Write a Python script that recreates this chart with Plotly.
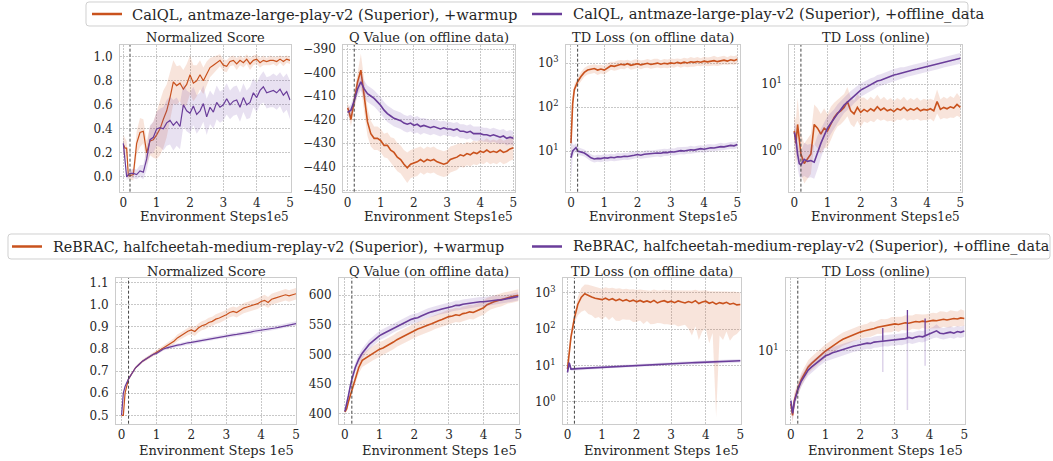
import plotly.graph_objects as go

# ---------------- data (x in units of 1e5 environment steps) ----------------
X = [0, 0.05, 0.1, 0.15, 0.2, 0.3, 0.4, 0.5, 0.6, 0.7, 0.8, 0.9, 1.0,
     1.1, 1.2, 1.3, 1.4, 1.5, 1.6, 1.7, 1.8, 1.9, 2.0,
     2.1, 2.2, 2.3, 2.4, 2.5, 2.6, 2.7, 2.8, 2.9, 3.0,
     3.1, 3.2, 3.3, 3.4, 3.5, 3.6, 3.7, 3.8, 3.9, 4.0,
     4.1, 4.2, 4.3, 4.4, 4.5, 4.6, 4.7, 4.8, 4.9, 5.0]

LEGEND_TOP = ["CalQL, antmaze-large-play-v2 (Superior), +warmup",
              "CalQL, antmaze-large-play-v2 (Superior), +offline_data"]
LEGEND_BOTTOM = ["ReBRAC, halfcheetah-medium-replay-v2 (Superior), +warmup",
                 "ReBRAC, halfcheetah-medium-replay-v2 (Superior), +offline_data"]
PANEL_TITLES = ["Normalized Score", "Q Value (on offline data)",
                "TD Loss (on offline data)", "TD Loss (online)"]
X_LABEL = "Environment Steps"
X_OFFSET = "1e5"
X_TICKS = [0, 1, 2, 3, 4, 5]
WARMUP_END = 0.2

# --- CalQL: normalized score
CQ_SCORE_W = [0.27, 0.24, 0.24, 0.01, 0.01, 0.02, 0.28, 0.37, 0.38, 0.20, 0.30, 0.31, 0.35,
              0.40, 0.48, 0.55, 0.66, 0.79, 0.76, 0.78, 0.73, 0.77, 0.85,
              0.78, 0.80, 0.85, 0.80, 0.86, 0.91, 0.93, 0.95, 0.97, 0.93,
              0.92, 0.96, 0.97, 0.94, 0.97, 0.95, 0.98, 0.94, 0.97, 0.98,
              0.95, 0.97, 0.96, 0.97, 0.97, 0.96, 0.98, 0.96, 0.98, 0.97]
CQ_SCORE_W_SD = [0.08, 0.08, 0.06, 0.03, 0.03, 0.05, 0.10, 0.12, 0.10, 0.10, 0.12, 0.15, 0.20,
                 0.22, 0.24, 0.22, 0.20, 0.18, 0.16, 0.15, 0.16, 0.17, 0.16,
                 0.15, 0.13, 0.12, 0.11, 0.10, 0.08, 0.07, 0.06, 0.05, 0.05,
                 0.05, 0.04, 0.04, 0.05, 0.04, 0.04, 0.04, 0.05, 0.04, 0.04,
                 0.04, 0.04, 0.03, 0.04, 0.03, 0.04, 0.03, 0.04, 0.03, 0.03]
CQ_SCORE_O = [0.28, 0.15, 0.00, 0.02, 0.03, 0.03, 0.02, 0.05, 0.04, 0.15, 0.31, 0.33, 0.40,
              0.41, 0.40, 0.45, 0.47, 0.43, 0.46, 0.42, 0.60, 0.55, 0.53,
              0.59, 0.52, 0.55, 0.61, 0.50, 0.58, 0.54, 0.62, 0.58, 0.60,
              0.65, 0.60, 0.63, 0.64, 0.58, 0.66, 0.60, 0.62, 0.70, 0.66,
              0.72, 0.75, 0.70, 0.71, 0.72, 0.70, 0.73, 0.68, 0.71, 0.64]
CQ_SCORE_O_SD = [0.06, 0.05, 0.03, 0.03, 0.03, 0.04, 0.04, 0.05, 0.06, 0.09, 0.12, 0.13, 0.14,
                 0.16, 0.18, 0.19, 0.20, 0.21, 0.20, 0.19, 0.18, 0.17, 0.17,
                 0.16, 0.16, 0.15, 0.15, 0.15, 0.14, 0.14, 0.14, 0.13, 0.13,
                 0.13, 0.12, 0.12, 0.12, 0.12, 0.12, 0.12, 0.13, 0.12, 0.12,
                 0.12, 0.13, 0.13, 0.13, 0.14, 0.14, 0.14, 0.15, 0.15, 0.16]

# --- CalQL: Q value on offline data
CQ_Q_W = [-415, -417, -420, -416, -412, -404, -399, -410, -421, -426, -428, -428, -429,
          -431, -431, -433, -434, -436, -437, -439, -440.5, -439, -438.5,
          -438, -437, -438, -437, -437.5, -437, -438, -438.5, -439, -438.5,
          -437, -436.5, -436, -435, -435.5, -434.5, -435, -434, -434.5, -433.5,
          -434, -433, -434, -433.5, -434, -433, -434, -433.5, -432.5, -432]
CQ_Q_W_SD = [2, 2.5, 3, 3.5, 4, 5, 7, 7, 6, 5.5, 5, 5, 5,
             5, 5.5, 5.5, 6, 6, 6, 6, 6.5, 6, 6,
             6, 5.5, 5.5, 5.5, 5.5, 5.5, 5.5, 5.5, 5.5, 5.5,
             5.5, 5.5, 5.5, 5, 5, 5, 5, 5, 5, 5,
             5, 5, 5, 5, 5, 5, 5, 5, 5, 5]
CQ_Q_O = [-417, -416.5, -416, -414, -412, -407, -404, -407, -409, -410, -411, -412.5, -414,
          -416, -417.5, -418.5, -419.5, -420, -420.5, -421.5, -422, -421.5, -422.5,
          -422, -423, -422.5, -423, -423.5, -423, -423.5, -424, -423.5, -424,
          -424, -424.5, -424, -425, -425, -425.5, -425, -426, -426, -426,
          -426.5, -426.5, -427, -426.5, -427, -427.5, -427, -428, -427.5, -428]
CQ_Q_O_SD = [2, 2, 2.5, 2.5, 3, 3, 3.5, 3.5, 3.5, 3.5, 3.5, 3.5, 3.5,
             3.5, 3.5, 3.5, 3.5, 3.5, 3.5, 3.5, 3.5, 3.5, 3.5,
             3.5, 3.5, 3.2, 3.2, 3.2, 3.2, 3.2, 3.2, 3, 3,
             3, 3, 3, 3, 3, 3, 3, 3, 3, 3,
             3, 3, 3, 3, 3, 3, 3, 3, 3, 3]

# --- CalQL: TD loss on offline data (band half-width in decades)
CQ_TDOFF_W = [15, 120, 250, 320, 380, 500, 620, 700, 720, 760, 700, 740, 700,
              800, 880, 850, 900, 950, 920, 980, 900, 950, 980,
              920, 960, 1000, 940, 980, 1010, 950, 1000, 970, 1020,
              990, 1050, 1000, 1060, 1020, 1080, 1050, 1100, 1060, 1120,
              1080, 1100, 1150, 1090, 1140, 1180, 1120, 1200, 1150, 1230]
CQ_TDOFF_W_SD = [0.35, 0.2, 0.12, 0.1, 0.1, 0.1, 0.1, 0.1, 0.1, 0.1, 0.11, 0.1, 0.1,
                 0.1, 0.09, 0.1, 0.11, 0.1, 0.1, 0.09, 0.1, 0.11, 0.1,
                 0.1, 0.09, 0.1, 0.1, 0.11, 0.1, 0.09, 0.1, 0.1, 0.1,
                 0.1, 0.09, 0.1, 0.1, 0.1, 0.11, 0.1, 0.1, 0.09, 0.1,
                 0.1, 0.1, 0.11, 0.1, 0.1, 0.1, 0.09, 0.1, 0.1, 0.1]
CQ_TDOFF_O = [7, 10, 11, 12, 10, 9.5, 9, 8, 7, 6.6, 6.8, 6.7, 7.0,
              6.9, 7.2, 7.0, 7.4, 7.3, 7.6, 7.5, 7.9, 8.0, 8.3,
              8.0, 8.4, 8.6, 8.5, 8.8, 9.0, 8.9, 9.3, 9.2, 9.6,
              9.5, 9.9, 10.2, 10.0, 10.4, 10.7, 10.5, 11.0, 11.3, 11.0,
              11.6, 11.9, 11.7, 12.2, 12.6, 12.4, 13.0, 13.4, 13.1, 14.0]
CQ_TDOFF_O_SD = [0.55, 0.15, 0.1, 0.1, 0.09, 0.08, 0.08, 0.08, 0.08, 0.08, 0.08, 0.08, 0.08,
                 0.08, 0.08, 0.08, 0.09, 0.08, 0.08, 0.08, 0.09, 0.08, 0.08,
                 0.08, 0.08, 0.09, 0.08, 0.08, 0.08, 0.09, 0.08, 0.08, 0.08,
                 0.08, 0.09, 0.08, 0.08, 0.08, 0.09, 0.08, 0.08, 0.08, 0.08,
                 0.09, 0.08, 0.08, 0.08, 0.09, 0.08, 0.08, 0.08, 0.08, 0.08]

# --- CalQL: TD loss online
CQ_TDON_W = [2.0, 1.3, 2.5, 1.5, 0.9, 0.65, 0.75, 0.9, 2.5, 2.2, 1.8, 2.2, 2.0,
             2.6, 3.2, 3.7, 4.0, 4.5, 5.5, 4.0, 3.6, 4.5, 3.8,
             4.2, 3.9, 4.3, 4.0, 4.6, 4.1, 4.4, 4.0, 4.2, 3.9,
             4.3, 4.1, 4.5, 4.0, 4.3, 4.1, 4.4, 4.0, 4.2, 4.1,
             4.3, 4.0, 5.5, 4.2, 4.5, 4.3, 4.6, 4.4, 5.0, 4.5]
CQ_TDON_W_SD = [0.25, 0.35, 0.4, 0.35, 0.3, 0.3, 0.3, 0.3, 0.3, 0.3, 0.3, 0.3, 0.25,
                0.25, 0.22, 0.2, 0.2, 0.2, 0.22, 0.2, 0.2, 0.2, 0.22,
                0.18, 0.17, 0.18, 0.17, 0.18, 0.16, 0.17, 0.16, 0.17, 0.16,
                0.16, 0.15, 0.16, 0.15, 0.16, 0.15, 0.16, 0.15, 0.16, 0.15,
                0.15, 0.16, 0.18, 0.15, 0.16, 0.15, 0.16, 0.15, 0.17, 0.15]
CQ_TDON_O = [1.9, 1.5, 0.9, 0.65, 0.62, 0.75, 0.7, 0.72, 0.68, 0.95, 1.3, 1.7, 2.2,
             2.6, 3.0, 3.6, 4.2, 4.9, 5.4, 6.0, 6.7, 7.4, 8.2,
             8.7, 9.3, 9.8, 10.4, 11.2, 11.5, 12.1, 12.6, 13.1, 13.8,
             14.1, 14.6, 15.0, 15.6, 16.0, 16.5, 16.9, 17.4, 17.8, 18.4,
             18.9, 19.5, 20.0, 20.6, 21.5, 22.0, 22.8, 23.4, 24.0, 24.5]
CQ_TDON_O_SD = [0.15, 0.2, 0.2, 0.2, 0.2, 0.25, 0.25, 0.25, 0.25, 0.25, 0.22, 0.2, 0.18,
                0.16, 0.15, 0.14, 0.13, 0.12, 0.12, 0.12, 0.11, 0.11, 0.1,
                0.1, 0.1, 0.1, 0.09, 0.09, 0.09, 0.09, 0.09, 0.09, 0.09,
                0.09, 0.09, 0.08, 0.08, 0.08, 0.08, 0.08, 0.08, 0.08, 0.08,
                0.08, 0.08, 0.08, 0.08, 0.08, 0.08, 0.08, 0.08, 0.08, 0.08]

# --- ReBRAC: normalized score
RB_SCORE_W = [0.50, 0.50, 0.60, 0.64, 0.665, 0.69, 0.715, 0.73, 0.745, 0.755, 0.765, 0.775, 0.785,
              0.795, 0.805, 0.815, 0.826, 0.835, 0.85, 0.86, 0.87, 0.88, 0.886,
              0.879, 0.895, 0.905, 0.91, 0.92, 0.925, 0.935, 0.94, 0.947, 0.955,
              0.965, 0.97, 0.965, 0.975, 0.985, 0.99, 0.995, 1.0, 1.005, 1.015,
              1.02, 1.01, 1.025, 1.03, 1.035, 1.04, 1.045, 1.04, 1.045, 1.05]
RB_SCORE_W_SD = [0.004, 0.004, 0.01, 0.008, 0.006, 0.006, 0.006, 0.006, 0.007, 0.007, 0.008, 0.008, 0.009,
                 0.01, 0.011, 0.012, 0.013, 0.014, 0.015, 0.016, 0.017, 0.018, 0.019,
                 0.02, 0.02, 0.02, 0.021, 0.021, 0.021, 0.022, 0.022, 0.022, 0.022,
                 0.022, 0.022, 0.023, 0.023, 0.023, 0.023, 0.024, 0.024, 0.024, 0.024,
                 0.025, 0.025, 0.025, 0.025, 0.026, 0.026, 0.026, 0.026, 0.026, 0.026]
RB_SCORE_O = [0.50, 0.60, 0.63, 0.65, 0.665, 0.69, 0.715, 0.73, 0.745, 0.755, 0.765, 0.775, 0.78,
              0.79, 0.80, 0.805, 0.81, 0.812, 0.817, 0.82, 0.825, 0.828, 0.83,
              0.833, 0.836, 0.838, 0.842, 0.845, 0.848, 0.852, 0.855, 0.857, 0.86,
              0.862, 0.864, 0.866, 0.868, 0.87, 0.874, 0.876, 0.88, 0.882, 0.885,
              0.888, 0.89, 0.893, 0.895, 0.898, 0.902, 0.905, 0.908, 0.912, 0.915]
RB_SCORE_O_SD = [0.004, 0.005, 0.006, 0.006, 0.006, 0.006, 0.006, 0.006, 0.006, 0.007, 0.007, 0.007, 0.007,
                 0.007, 0.007, 0.008, 0.008, 0.008, 0.008, 0.008, 0.008, 0.008, 0.008,
                 0.008, 0.008, 0.008, 0.008, 0.009, 0.009, 0.009, 0.009, 0.009, 0.009,
                 0.009, 0.009, 0.009, 0.009, 0.009, 0.009, 0.01, 0.01, 0.01, 0.01,
                 0.01, 0.01, 0.01, 0.01, 0.01, 0.01, 0.01, 0.01, 0.01, 0.01]

# --- ReBRAC: Q value on offline data
RB_Q_W = [403, 408, 420, 430, 440, 460, 478, 490, 494, 498, 502, 506, 509,
          511, 514, 518, 521, 525, 528, 531, 535, 537, 540,
          543, 545, 548, 550, 552, 555, 557, 559, 562, 564,
          565, 567, 566, 569, 570, 572, 571, 574, 577, 579,
          584, 587, 589, 591, 592, 594, 596, 597, 598, 600]
RB_Q_W_SD = [3, 4, 5, 6, 7, 9, 10, 11, 12, 12, 12, 12, 12,
             12, 12, 12, 12, 12, 12, 12, 12, 12, 12,
             12, 12, 12, 12, 12, 12, 12, 12, 12, 12,
             12, 12, 12, 12, 12, 12, 12, 12, 12, 12,
             12, 11, 11, 11, 11, 11, 10, 10, 10, 10]
RB_Q_O = [404, 415, 430, 445, 458, 478, 492, 502, 510, 517, 522, 527, 532,
          535, 538, 541, 545, 548, 551, 553, 556, 559, 561,
          562, 565, 568, 570, 572, 573, 575, 577, 578, 579,
          581, 583, 583, 585, 586, 587, 587, 588, 589, 589,
          590, 591, 591, 592, 592, 593, 594, 595, 597, 598]
RB_Q_O_SD = [3, 4, 5, 6, 7, 8, 8, 8, 8, 8, 8, 8, 8,
             8, 8, 8, 8, 8, 8, 8, 8, 8, 8,
             8, 8, 8, 8, 8, 8, 8, 8, 8, 8,
             8, 8, 8, 8, 8, 8, 8, 8, 8, 8,
             8, 8, 8, 8, 7, 7, 7, 7, 7, 7]

# --- ReBRAC: TD loss on offline data (upper / lower half-widths in decades)
RB_TDOFF_W = [8, 25, 60, 110, 200, 480, 750, 930, 820, 760, 700, 680, 640,
              700, 630, 680, 600, 660, 590, 640, 570, 620, 560,
              610, 550, 590, 540, 610, 520, 570, 600, 540, 580,
              530, 590, 550, 520, 570, 530, 600, 500, 550, 580,
              510, 550, 480, 530, 500, 540, 480, 510, 460, 470]
RB_TDOFF_W_UP = [0.1, 0.15, 0.15, 0.15, 0.15, 0.2, 0.25, 0.25, 0.3, 0.3, 0.3, 0.3, 0.3,
                 0.3, 0.32, 0.3, 0.33, 0.3, 0.32, 0.3, 0.33, 0.3, 0.32,
                 0.3, 0.33, 0.3, 0.32, 0.3, 0.34, 0.3, 0.3, 0.33, 0.3,
                 0.33, 0.3, 0.32, 0.34, 0.3, 0.33, 0.3, 0.35, 0.32, 0.3,
                 0.33, 0.3, 0.35, 0.32, 0.33, 0.3, 0.34, 0.32, 0.35, 0.33]
RB_TDOFF_W_DN = [0.1, 0.15, 0.15, 0.15, 0.15, 0.3, 0.4, 0.45, 0.5, 0.5, 0.55, 0.5, 0.55,
                 0.5, 0.55, 0.5, 0.55, 0.6, 0.5, 0.55, 0.5, 0.6, 0.55,
                 0.55, 0.6, 0.55, 0.6, 0.65, 0.55, 0.6, 0.65, 0.6, 0.65,
                 0.6, 0.7, 0.65, 0.6, 0.75, 0.9, 0.7, 1.0, 0.8, 0.75,
                 1.1, 0.85, 3.1, 0.9, 1.0, 0.8, 1.0, 0.9, 0.8, 0.7]
RB_TDOFF_O = [6.5, 12, 8.0, 7.9, 8.1, 8.2, 8.3, 8.4, 8.5, 8.5, 8.6, 8.8, 9.0,
              9.1, 9.2, 9.3, 9.5, 9.6, 9.7, 9.9, 10.0, 10.1, 10.3,
              10.4, 10.5, 10.5, 10.7, 10.8, 10.9, 11.0, 11.1, 11.2, 11.3,
              11.3, 11.5, 11.6, 11.7, 11.8, 11.9, 12.0, 12.1, 12.2, 12.4,
              12.3, 12.6, 12.8, 12.7, 13.0, 13.2, 12.9, 13.4, 13.2, 13.5]
RB_TDOFF_O_SD = [0.1, 0.1, 0.05, 0.04, 0.04, 0.04, 0.04, 0.04, 0.04, 0.04, 0.04, 0.04, 0.04,
                 0.04, 0.04, 0.04, 0.04, 0.04, 0.04, 0.04, 0.04, 0.04, 0.04,
                 0.04, 0.04, 0.04, 0.04, 0.04, 0.04, 0.04, 0.04, 0.04, 0.04,
                 0.045, 0.045, 0.045, 0.045, 0.045, 0.045, 0.045, 0.045, 0.045, 0.045,
                 0.05, 0.05, 0.05, 0.05, 0.05, 0.05, 0.05, 0.05, 0.05, 0.05]

# --- ReBRAC: TD loss online
RB_TDON_W = [2.8, 2.1, 3.0, 3.6, 4.0, 5.0, 5.9, 6.8, 7.4, 8.0, 8.6, 9.2, 10.0,
             10.6, 11.3, 11.9, 12.6, 13.3, 13.8, 14.3, 14.9, 15.2, 15.8,
             16.2, 16.5, 17.0, 17.2, 17.8, 18.1, 18.4, 18.6, 18.9, 19.3,
             19.0, 19.5, 19.8, 19.6, 20.1, 20.4, 20.2, 20.6, 20.3, 20.7,
             21.0, 20.8, 21.3, 21.6, 21.2, 21.8, 22.0, 21.7, 22.3, 22.0]
RB_TDON_W_SD = [0.05, 0.08, 0.08, 0.07, 0.07, 0.07, 0.07, 0.07, 0.07, 0.07, 0.07, 0.07, 0.07,
                0.07, 0.07, 0.07, 0.07, 0.07, 0.07, 0.07, 0.07, 0.07, 0.07,
                0.07, 0.07, 0.08, 0.07, 0.07, 0.08, 0.07, 0.07, 0.08, 0.07,
                0.08, 0.07, 0.08, 0.08, 0.07, 0.08, 0.08, 0.07, 0.08, 0.08,
                0.08, 0.08, 0.09, 0.08, 0.08, 0.09, 0.08, 0.08, 0.09, 0.08]
RB_TDON_O = [3.0, 2.2, 2.9, 3.4, 3.9, 4.8, 5.6, 6.3, 6.8, 7.3, 7.9, 8.4, 8.9,
             9.2, 9.6, 9.8, 10.1, 10.4, 10.6, 10.9, 11.2, 11.4, 11.7,
             11.8, 12.1, 12.0, 12.4, 12.5, 12.6, 12.9, 12.8, 13.1, 13.0,
             13.3, 13.2, 13.5, 13.9, 13.6, 14.0, 14.3, 14.1, 14.6, 15.0,
             15.6, 16.3, 15.4, 15.2, 15.5, 15.8, 15.4, 16.0, 15.7, 16.2]
RB_TDON_O_SD = [0.05, 0.07, 0.07, 0.06, 0.06, 0.06, 0.06, 0.06, 0.06, 0.06, 0.06, 0.06, 0.06,
                0.06, 0.06, 0.06, 0.06, 0.06, 0.06, 0.06, 0.06, 0.06, 0.06,
                0.06, 0.06, 0.06, 0.06, 0.06, 0.06, 0.06, 0.06, 0.06, 0.06,
                0.06, 0.06, 0.06, 0.06, 0.06, 0.06, 0.06, 0.06, 0.06, 0.06,
                0.06, 0.07, 0.06, 0.06, 0.06, 0.06, 0.06, 0.06, 0.06, 0.06]
# isolated spikes in the ReBRAC online TD loss (+offline_data run)
RB_TDON_O_SPIKE_X = [2.65, 3.36, 3.87]
RB_TDON_O_SPIKE_BASE = [12.8, 13.8, 14.5]
RB_TDON_O_SPIKE_TOP = [17.5, 27.0, 22.0]
RB_TDON_O_SPIKE_LOW = [6.0, 2.4, 7.0]

# ---------------- style ----------------
FONT = "DejaVu Serif"
TXT = "#262626"
ORANGE = "#c9521d"
PURPLE = "#6a3d9a"
ORANGE_FILL = "rgba(214,96,40,0.17)"
PURPLE_FILL = "rgba(120,80,170,0.17)"
W, H = 1053, 461
TITLE_SIZE = 13
LABEL_SIZE = 13
TICK_SIZE = 12
LEGEND_SIZES = [14.7, 14.3]

# panel geometry in pixels: (left, right, top, bottom) and x range
BOX = [(120, 290.7, 45, 191.7), (343.3, 515, 45, 191.7), (566, 740, 45, 191.7), (789.3, 962, 45, 191.7),
       (116, 296, 278, 423.7), (339, 519, 278, 423.7), (563, 741, 278, 423.7), (786, 965, 278, 423.7)]
XR = [[-0.10, 5.02], [-0.13, 5.05], [-0.15, 5.08], [-0.15, 5.05],
      [-0.16, 5.0], [-0.17, 5.02], [-0.13, 5.02], [-0.14, 5.02]]
# legend boxes (left, right, top, bottom) and entry positions (line start, text start) in px
LEG_BOX = [(86, 968, 2, 26), (8, 1050, 234, 259)]
LEG_ITEMS = [[(92, 132), (532, 573)], [(12, 53), (532, 573)]]


def sup(n):
    return "10<sup>%d</sup>" % n


def px(xp, yp):
    return xp / W, 1 - yp / H


PANELS = [
    dict(w=(CQ_SCORE_W, CQ_SCORE_W_SD), o=(CQ_SCORE_O, CQ_SCORE_O_SD), log=False,
         yr=[-0.1225, 1.0975], tv=[0.0, 0.2, 0.4, 0.6, 0.8, 1.0], tt=None, fmt="%.1f"),
    dict(w=(CQ_Q_W, CQ_Q_W_SD), o=(CQ_Q_O, CQ_Q_O_SD), log=False,
         yr=[-450.7, -388.3], tv=[-450, -440, -430, -420, -410, -400, -390], tt=None, fmt="%d"),
    dict(w=(CQ_TDOFF_W, CQ_TDOFF_W_SD), o=(CQ_TDOFF_O, CQ_TDOFF_O_SD), log=True,
         yr=[0.072, 3.417], tv=[10, 100, 1000], tt=[sup(1), sup(2), sup(3)]),
    dict(w=(CQ_TDON_W, CQ_TDON_W_SD), o=(CQ_TDON_O, CQ_TDON_O_SD), log=True,
         yr=[-0.61, 1.589], tv=[1, 10], tt=[sup(0), sup(1)]),
    dict(w=(RB_SCORE_W, RB_SCORE_W_SD), o=(RB_SCORE_O, RB_SCORE_O_SD), log=False,
         yr=[0.462, 1.121], tv=[0.5, 0.6, 0.7, 0.8, 0.9, 1.0, 1.1], tt=None, fmt="%.1f"),
    dict(w=(RB_Q_W, RB_Q_W_SD), o=(RB_Q_O, RB_Q_O_SD), log=False,
         yr=[383.1, 629.2], tv=[400, 450, 500, 550, 600], tt=None, fmt="%d"),
    dict(w=(RB_TDOFF_W, RB_TDOFF_W_UP, RB_TDOFF_W_DN), o=(RB_TDOFF_O, RB_TDOFF_O_SD), log=True,
         yr=[-0.596, 3.40], tv=[1, 10, 100, 1000], tt=[sup(0), sup(1), sup(2), sup(3)]),
    dict(w=(RB_TDON_W, RB_TDON_W_SD), o=(RB_TDON_O, RB_TDON_O_SD), log=True,
         yr=[0.235, 1.768], tv=[10], tt=[sup(1)]),
]

for p in PANELS:
    for k in ("w", "o"):
        for arr in p[k]:
            assert len(arr) == len(X), (len(arr))


def band(series, log):
    m = series[0]
    up = series[1]
    dn = series[2] if len(series) > 2 else series[1]
    if log:
        hi = [a * 10 ** u for a, u in zip(m, up)]
        lo = [a / 10 ** d for a, d in zip(m, dn)]
    else:
        hi = [a + u for a, u in zip(m, up)]
        lo = [a - d for a, d in zip(m, dn)]
    return hi, lo


fig = go.Figure()
shapes = []
annotations = []

for i, p in enumerate(PANELS):
    n = i + 1
    xa = "x" if n == 1 else "x%d" % n
    ya = "y" if n == 1 else "y%d" % n
    for key, col, fill in (("w", ORANGE, ORANGE_FILL), ("o", PURPLE, PURPLE_FILL)):
        hi, lo = band(p[key], p["log"])
        fig.add_trace(go.Scatter(x=X + X[::-1], y=hi + lo[::-1], fill="toself",
                                 fillcolor=fill, line=dict(width=0), mode="lines",
                                 hoverinfo="skip", showlegend=False, xaxis=xa, yaxis=ya))
        if n == 8 and key == "o":
            sx, sy = [], []
            for x0, b0, lo0 in zip(RB_TDON_O_SPIKE_X, RB_TDON_O_SPIKE_BASE, RB_TDON_O_SPIKE_LOW):
                sx += [x0, x0, None]
                sy += [lo0, b0, None]
            fig.add_trace(go.Scatter(x=sx, y=sy, mode="lines",
                                     line=dict(color="rgba(120,80,170,0.25)", width=1.5),
                                     hoverinfo="skip", showlegend=False, xaxis=xa, yaxis=ya))
        lw = 1.2 if i in (0, 4) else 1.6
        fig.add_trace(go.Scatter(x=X, y=p[key][0], mode="lines",
                                 line=dict(color=col, width=lw),
                                 showlegend=False, xaxis=xa, yaxis=ya))
        if n == 8 and key == "o":
            sx, sy = [], []
            for x0, b0, t0 in zip(RB_TDON_O_SPIKE_X, RB_TDON_O_SPIKE_BASE, RB_TDON_O_SPIKE_TOP):
                sx += [x0, x0, None]
                sy += [b0, t0, None]
            fig.add_trace(go.Scatter(x=sx, y=sy, mode="lines", line=dict(color=PURPLE, width=1.3),
                                     hoverinfo="skip", showlegend=False, xaxis=xa, yaxis=ya))

    l, r, t, b = BOX[i]
    xdom = [l / W, r / W]
    ydom = [1 - b / H, 1 - t / H]
    ax_common = dict(showgrid=True, gridcolor="#c8c8c8", griddash="1.5px,1.5px", gridwidth=0.9,
                     showline=True, linecolor="#cccccc", linewidth=1, mirror=True,
                     zeroline=False, ticks="", tickfont=dict(family=FONT, size=TICK_SIZE, color=TXT))
    xaxis = dict(domain=xdom, anchor=ya, range=XR[i], tickmode="array", tickvals=X_TICKS,
                 ticktext=[str(v) for v in X_TICKS], ticklabelstandoff=0, **ax_common)
    if p["log"]:
        yaxis = dict(domain=ydom, anchor=xa, type="log", range=p["yr"], tickmode="array",
                     tickvals=p["tv"], ticktext=p["tt"], ticklabelstandoff=4, **ax_common)
    else:
        yaxis = dict(domain=ydom, anchor=xa, range=p["yr"], tickmode="array",
                     tickvals=p["tv"],
                     ticktext=[(p["fmt"] % v).replace("-", "\u2212") for v in p["tv"]],
                     ticklabelstandoff=4, **ax_common)
    fig.layout["xaxis" if n == 1 else "xaxis%d" % n] = xaxis
    fig.layout["yaxis" if n == 1 else "yaxis%d" % n] = yaxis

    shapes.append(dict(type="line", xref=xa, yref=ya + " domain", x0=WARMUP_END, x1=WARMUP_END,
                       y0=0, y1=1, line=dict(color="#444444", width=1, dash="3px,2px")))
    top_row = i < 4
    cx = (l + r) / 2 / W
    ty = 37.5 if top_row else 271.5
    annotations.append(dict(text=PANEL_TITLES[i % 4], xref="paper", yref="paper", x=cx,
                            y=1 - ty / H, xanchor="center", yanchor="middle", showarrow=False,
                            font=dict(family=FONT, size=TITLE_SIZE, color=TXT)))
    if top_row:
        label = X_LABEL + "<span style='font-size:12px'>" + X_OFFSET + "</span>"
        ly = 216
    else:
        label = X_LABEL + " <span style='font-size:13px'>" + X_OFFSET + "</span>"
        ly = 450
    annotations.append(dict(text=label, xref="paper", yref="paper", x=r / W, y=1 - ly / H,
                            xanchor="right", yanchor="middle", showarrow=False,
                            font=dict(family=FONT, size=LABEL_SIZE, color=TXT)))

# ---------------- legends (one per row, drawn as box + sample lines + labels) ----------------
for (bl, br, bt, bb), items, names, fs in zip(LEG_BOX, LEG_ITEMS, (LEGEND_TOP, LEGEND_BOTTOM),
                                              LEGEND_SIZES):
    rr = 3
    x0, y0 = px(bl, bt)
    x1, y1 = px(br, bb)
    rx, ry = rr / W, rr / H
    path = ("M %f,%f L %f,%f Q %f,%f %f,%f L %f,%f Q %f,%f %f,%f L %f,%f Q %f,%f %f,%f "
            "L %f,%f Q %f,%f %f,%f Z") % (
        x0 + rx, y0, x1 - rx, y0, x1, y0, x1, y0 - ry,
        x1, y1 + ry, x1, y1, x1 - rx, y1,
        x0 + rx, y1, x0, y1, x0, y1 + ry,
        x0, y0 - ry, x0, y0, x0 + rx, y0)
    shapes.append(dict(type="path", xref="paper", yref="paper", path=path,
                       fillcolor="white", line=dict(color="#d0d0d0", width=1), layer="above"))
    cy = (bt + bb) / 2
    for (lx, tx), name, col in zip(items, names, (ORANGE, PURPLE)):
        a, yy = px(lx, cy)
        c, _ = px(lx + 30, cy)
        shapes.append(dict(type="line", xref="paper", yref="paper", x0=a, x1=c, y0=yy, y1=yy,
                           line=dict(color=col, width=2.5), layer="above"))
        tpx, _ = px(tx - 2, cy)
        annotations.append(dict(text=name, xref="paper", yref="paper", x=tpx, y=yy,
                                xanchor="left", yanchor="middle", showarrow=False,
                                font=dict(family=FONT, size=fs, color=TXT)))

fig.update_layout(
    width=W, height=H, margin=dict(l=0, r=0, t=0, b=0, autoexpand=False),
    paper_bgcolor="white", plot_bgcolor="white", showlegend=False,
    shapes=shapes, annotations=annotations,
)

fig.write_html("out.html", config={"displayModeBar": False},
               post_script="document.body.style.margin='0px';")
